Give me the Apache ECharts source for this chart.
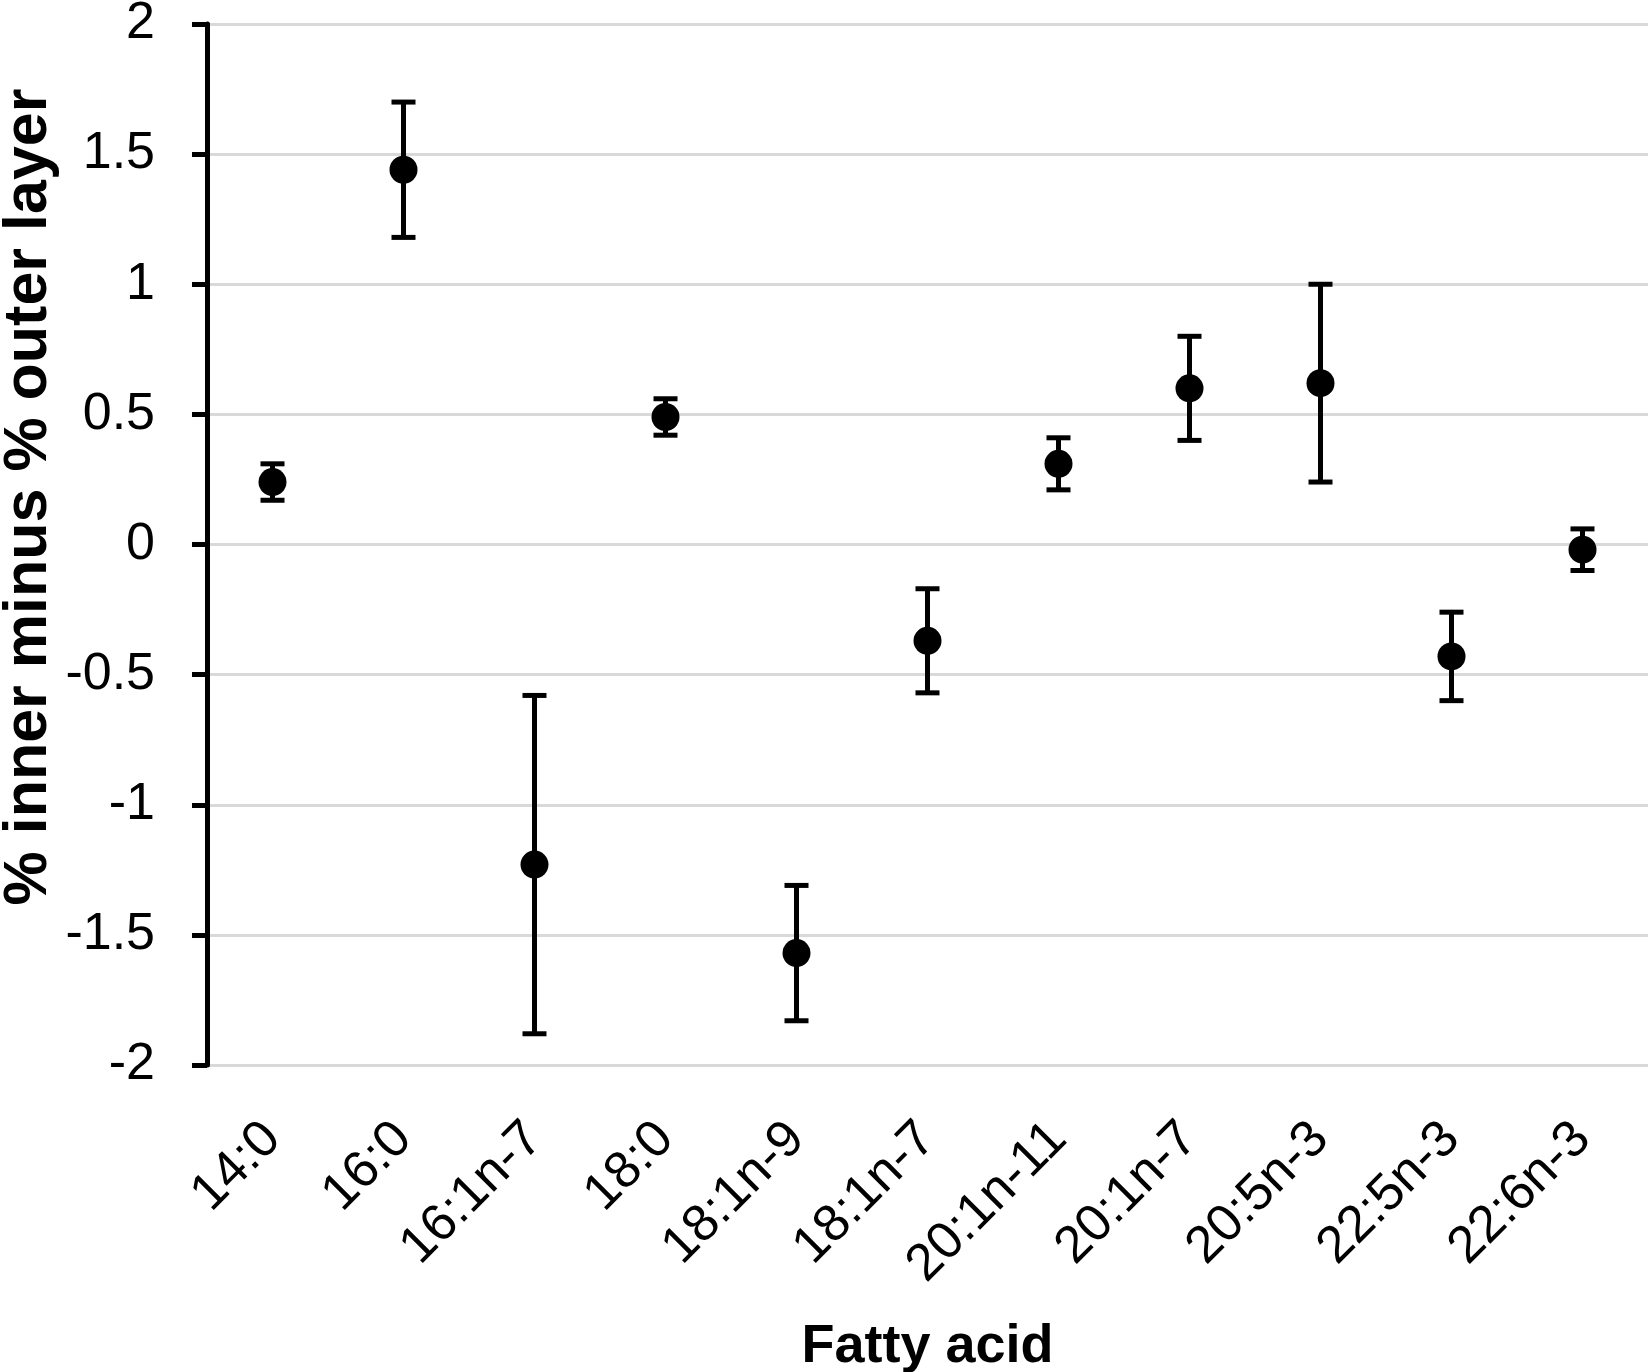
<!DOCTYPE html>
<html>
<head>
<meta charset="utf-8">
<script src="https://cdn.jsdelivr.net/npm/echarts@6/dist/echarts.min.js"></script>
<style>
  html, body { margin: 0; padding: 0; background: #fff; }
  #chart { width: 1650px; height: 1372px; }
</style>
</head>
<body>
<div id="chart"></div>
<script>
// fatty acids on the x axis
var fattyAcids = ['14:0', '16:0', '16:1n-7', '18:0', '18:1n-9', '18:1n-7',
  '20:1n-11', '20:1n-7', '20:5n-3', '22:5n-3', '22:6n-3'];
// mean difference (% inner minus % outer layer)
var meanDiff = [0.24, 1.44, -1.23, 0.49, -1.57, -0.37, 0.31, 0.60, 0.62, -0.43, -0.02];
// error bar half-lengths
var errHalf = [0.07, 0.26, 0.65, 0.07, 0.26, 0.20, 0.10, 0.20, 0.38, 0.17, 0.08];
// y axis ticks
var yTicks = [-2, -1.5, -1, -0.5, 0, 0.5, 1, 1.5, 2];

var FONT = '"Liberation Sans", Arial, sans-serif';

var errData = meanDiff.map(function (m, i) {
  return [i, m - errHalf[i], m + errHalf[i]];
});

var chart = echarts.init(document.getElementById('chart'));

var option = {
  backgroundColor: '#fff',
  animation: false,
  grid: { left: 207, right: 2, top: 24, bottom: 307, containLabel: false, outerBoundsMode: 'none' },
  xAxis: {
    type: 'category',
    data: fattyAcids,
    axisLine: { show: false },
    axisTick: { show: false },
    axisLabel: {
      rotate: 45,
      margin: 66,
      fontSize: 52,
      color: '#000',
      fontFamily: FONT
    },
    name: 'Fatty acid',
    nameLocation: 'middle',
    nameGap: 255,
    nameTextStyle: { fontSize: 54, fontWeight: 'bold', color: '#000', fontFamily: FONT }
  },
  yAxis: {
    type: 'value',
    min: yTicks[0],
    max: yTicks[yTicks.length - 1],
    interval: 0.5,
    axisLine: { show: true, lineStyle: { color: '#000', width: 5 } },
    axisTick: { show: true, inside: false, length: 15, lineStyle: { color: '#000', width: 5 } },
    axisLabel: {
      margin: 52,
      fontSize: 52,
      color: '#000',
      fontFamily: FONT
    },
    splitLine: { show: true, lineStyle: { color: '#d9d9d9', width: 3 } }
  },
  graphic: [{
    type: 'text',
    x: 29,
    y: 497,
    rotation: Math.PI / 2,
    style: {
      text: '% inner minus % outer layer',
      font: 'bold 61px ' + FONT,
      fill: '#000',
      textAlign: 'center',
      textVerticalAlign: 'middle'
    }
  }],
  series: [{
    type: 'custom',
    data: errData,
    z: 2,
    renderItem: function (params, api) {
      var x = api.value(0);
      var lo = api.coord([x, api.value(1)]);
      var hi = api.coord([x, api.value(2)]);
      var cap = 12;
      var style = { stroke: '#000', lineWidth: 5 };
      return {
        type: 'group',
        children: [
          { type: 'line', shape: { x1: lo[0], y1: lo[1], x2: hi[0], y2: hi[1] }, style: style },
          { type: 'line', shape: { x1: lo[0] - cap, y1: lo[1], x2: lo[0] + cap, y2: lo[1] }, style: style },
          { type: 'line', shape: { x1: hi[0] - cap, y1: hi[1], x2: hi[0] + cap, y2: hi[1] }, style: style }
        ]
      };
    }
  }, {
    type: 'scatter',
    data: meanDiff,
    z: 3,
    symbol: 'circle',
    symbolSize: 28,
    itemStyle: { color: '#000', opacity: 1 }
  }]
};

chart.setOption(option);
</script>
</body>
</html>
